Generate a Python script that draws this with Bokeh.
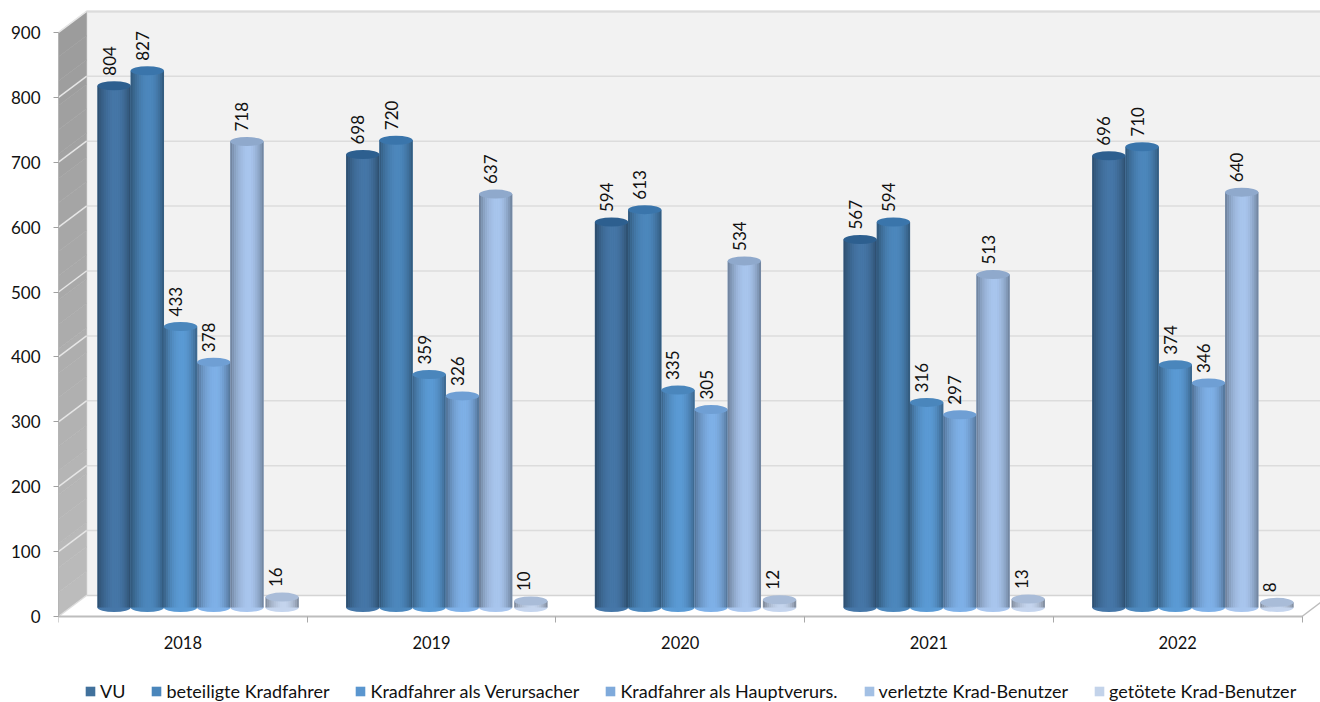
from bokeh.plotting import figure
from bokeh.embed import file_html
from bokeh.resources import INLINE
from bokeh.core.properties import value
from bokeh.models import FixedTicker, Legend, LegendItem, ColumnDataSource
import math

years = ["2018", "2019", "2020", "2021", "2022"]
series_names = ["VU", "beteiligte Kradfahrer", "Kradfahrer als Verursacher",
                "Kradfahrer als Hauptverurs.", "verletzte Krad-Benutzer", "getötete Krad-Benutzer"]
vu = [804, 698, 594, 567, 696]
beteiligte = [827, 720, 613, 594, 710]
verursacher = [433, 359, 335, 316, 374]
hauptverurs = [378, 326, 305, 297, 346]
verletzte = [718, 637, 534, 513, 640]
getoetete = [16, 10, 12, 13, 8]
y_ticks = [0, 100, 200, 300, 400, 500, 600, 700, 800, 900]
series = [vu, beteiligte, verursacher, hauptverurs, verletzte, getoetete]
body_colors = ["#4677a8", "#4d88bd", "#5b9bd5", "#7fb1e8", "#a9c6ee", "#c5d5ee"]
legend_colors = ["#41719c", "#4a86bb", "#5a96cf", "#7faadb", "#a3c0e4", "#c3d3ea"]
top_colors = ["#2d5f8f", "#3a75ab", "#4a86bc", "#6f9fd4", "#8fa9cc", "#a9bcd8"]

W, H = 1320, 702
ZERO_Y = 616             # px of value 0
LEFT_X = 58
GROUP_PX = 248.7
PX_PER_UNIT = 0.649
y_end = ZERO_Y / PX_PER_UNIT
y_start = (ZERO_Y - H) / PX_PER_UNIT
x_end = (W - LEFT_X) / GROUP_PX

p = figure(width=W, height=H, x_range=(0, x_end), y_range=(y_start, y_end),
           output_backend="svg", toolbar_location=None,
           min_border_left=LEFT_X, min_border_right=0, min_border_top=0,
           min_border_bottom=0, background_fill_color="white",
           border_fill_color="white")
p.outline_line_color = None
p.grid.visible = False

def gx(px):
    return (px - LEFT_X) / GROUP_PX

DX = gx(LEFT_X + 28)
DY = 21 / PX_PER_UNIT
TOP_V = 900

# back wall
p.patch([DX, x_end + 0.1, x_end + 0.1, DX], [0 + DY, DY, TOP_V + DY, TOP_V + DY],
        fill_color="#f2f2f2", line_color=None)
p.line([DX, x_end + 0.1], [TOP_V + DY, TOP_V + DY], line_color="#d9d9d9", line_width=2)
p.line([DX, DX], [DY, TOP_V + DY], line_color="#e2e2e2", line_width=2)

# side wall, shaded from dark (top) to lighter (bottom)
steps = 24
for i in range(steps):
    v0 = TOP_V * i / steps
    v1 = TOP_V * (i + 1) / steps
    f = i / (steps - 1)
    c = int(0xbc - (0xbc - 0x9c) * f)
    col = "#%02x%02x%02x" % (c, c, c)
    p.patch([0, DX, DX, 0], [v0, v0 + DY, v1 + DY, v1], fill_color=col, line_color=col, line_width=0.5)

# floor
p.patch([0, 5, x_end + 0.1, DX], [0, 0, DY, DY], fill_color="white", line_color=None)
p.line([DX, x_end + 0.1], [DY, DY], line_color="#d4d4d4", line_width=1.5)
p.line([0, DX], [0, DY], line_color="#dddddd", line_width=1.5)
p.line([5, x_end], [0, 14 / PX_PER_UNIT], line_color="#bdbdbd", line_width=1.5)

# grid lines on wall
for t in y_ticks[1:]:
    p.line([DX, x_end + 0.1], [t + DY, t + DY], line_color="#dcdcdc", line_width=1.5)
    p.line([0, DX], [t, t + DY], line_color="#e6e6e6", line_width=1.5)

# cylinders
BASE = 9 / PX_PER_UNIT
BW = 33.2 / GROUP_PX
OFF = 39 / GROUP_PX
STRIPS = 16

def shade(col, t):
    r, g, b = int(col[1:3], 16), int(col[3:5], 16), int(col[5:7], 16)
    if t < 0.55:
        f = 0.62 + 0.38 * math.sin(t / 0.55 * math.pi / 2) ** 0.8
    else:
        f = 0.62 + 0.38 * math.cos((t - 0.55) / 0.45 * math.pi / 2) ** 0.8
    return "#%02x%02x%02x" % (int(r * f), int(g * f), int(b * f))

legend_items = []
for s, vals in enumerate(series):
    x0 = [i + OFF + s * BW + (2 / GROUP_PX if s == 5 else 0) for i in range(len(vals))]
    xc = [x + BW / 2 for x in x0]
    tops = [BASE + v for v in vals]
    base_r = p.quad(left=x0, right=[x + BW for x in x0], bottom=[BASE] * len(vals), top=tops,
                    fill_color=legend_colors[s], line_color=None)
    legend_items.append(LegendItem(label=series_names[s], renderers=[base_r]))
    # base ellipse
    p.ellipse(xc, [BASE] * len(vals), width=BW * GROUP_PX, height=9, width_units="screen",
              height_units="screen", fill_color=body_colors[s], line_color=None)
    src = {"l": [], "r": [], "t": [], "b": [], "c": []}
    for x, top in zip(x0, tops):
        for k in range(STRIPS):
            src["l"].append(x + BW * k / STRIPS)
            src["r"].append(x + BW * (k + 1) / STRIPS + 0.0005)
            src["t"].append(top)
            src["b"].append(BASE)
            src["c"].append(shade(body_colors[s], (k + 0.5) / STRIPS))
    p.quad(left="l", right="r", top="t", bottom="b", fill_color="c", line_color=None,
           source=ColumnDataSource(src))
    p.ellipse(xc, tops, width=BW * GROUP_PX, height=9, width_units="screen", height_units="screen",
              fill_color=top_colors[s], line_color=None)
    p.text(xc, tops, text=[str(v) for v in vals], angle=math.pi / 2,
           text_font=value("Lato"), text_font_size="17px", text_color="#111111",
           text_align="left", text_baseline="middle",
           x_offset=-7 if s == 5 else -5, y_offset=-10)

# axes
yax = p.yaxis[0]
yax.ticker = FixedTicker(ticks=y_ticks)
yax.bounds = (0, 900)
yax.major_tick_in = 0
yax.major_tick_out = 5
yax.minor_tick_out = 0
yax.minor_tick_in = 0
yax.axis_line_color = "#b5b5b5"
yax.major_tick_line_color = "#a0a0a0"
yax.major_label_text_font = "Lato"
yax.major_label_text_font_size = "17px"
yax.major_label_text_color = "#111111"
yax.major_label_standoff = 13

xax = p.xaxis[0]
xax.fixed_location = 0
xax.bounds = (0, 5)
xax.ticker = FixedTicker(ticks=[i + 0.5 for i in range(5)], minor_ticks=[0, 1, 2, 3, 4, 5])
xax.major_label_overrides = {i + 0.5: y for i, y in enumerate(years)}
xax.major_tick_in = 0
xax.major_tick_out = 0
xax.minor_tick_in = 0
xax.minor_tick_out = 6
xax.axis_line_color = "#bdbdbd"
xax.axis_line_width = 2
xax.minor_tick_line_color = "#a8a8a8"
xax.major_label_text_font = "Lato"
xax.major_label_text_font_size = "16.5px"
xax.major_label_text_color = "#111111"
xax.major_label_standoff = 13

legend = Legend(items=legend_items, orientation="horizontal", location=(26, 0),
                glyph_width=12, glyph_height=12, label_standoff=4, spacing=25,
                label_text_font="Lato", label_text_font_size="18px", label_text_color="#111111",
                border_line_color=None, background_fill_alpha=0, padding=0, margin=0)
p.add_layout(legend)

open("out.html", "w").write(file_html(p, INLINE))
